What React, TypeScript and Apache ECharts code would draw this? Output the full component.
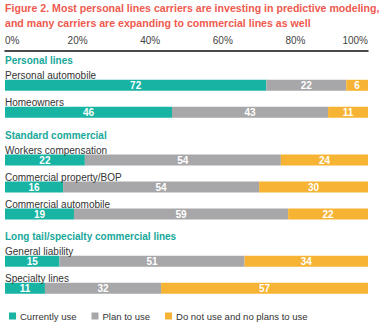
import React, { useEffect, useRef } from "react";
import * as echarts from "echarts";

const TITLE_LINES = [
  "Figure 2. Most personal lines carriers are investing in predictive modeling,",
  "and many carriers are expanding to commercial lines as well",
];
const SERIES_NAMES = ["Currently use", "Plan to use", "Do not use and no plans to use"];
const COLORS = ["#17b3a3", "#a7a7a9", "#f7b334"];
const SECTIONS = ["Personal lines", "Standard commercial", "Long tail/specialty commercial lines"];
const CATEGORIES = [
  ["Personal automobile", "Homeowners"],
  ["Workers compensation", "Commercial property/BOP", "Commercial automobile"],
  ["General liability", "Specialty lines"],
];
const CURRENT = [[72, 46], [22, 16, 19], [15, 11]];
const PLAN = [[22, 43], [54, 54, 59], [51, 32]];
const NOPLAN = [[6, 11], [24, 30, 22], [34, 57]];
const X_TICKS = [0, 20, 40, 60, 80, 100];

const FONT = "'Liberation Sans', Arial, sans-serif";

export default function App() {
  const ref = useRef<HTMLDivElement>(null);
  useEffect(() => {
    if (!ref.current) return;
    const chart = echarts.init(ref.current, null, { renderer: "svg" });
    const rowH = 27;
    const gridTops = [71.8, 146.5, 247.8];
    const left = 5;
    const right = 384 - 368;
    const grids = CATEGORIES.map((cats, i) => ({
      left,
      right,
      top: gridTops[i],
      height: cats.length * rowH,
      containLabel: false,
    }));
    const xAxes = CATEGORIES.map((_, i) => ({
      type: "value",
      gridIndex: i,
      min: 0,
      max: 100,
      interval: 20,
      position: "top",
      offset: i === 0 ? gridTops[0] - 50.5 : 0,
      show: i === 0,
      axisLine: { show: i === 0, lineStyle: { color: "#111", width: 1.5 } },
      axisTick: { show: false },
      splitLine: { show: false },
      axisLabel: {
        show: i === 0,
        formatter: (v: number) => (X_TICKS.includes(v) ? v + "%" : ""),
        color: "#444",
        fontSize: 10,
        fontFamily: FONT,
        margin: 5,
        alignMinLabel: "left",
        alignMaxLabel: "right",
      },
    }));
    const yAxes = CATEGORIES.map((cats, i) => ({
      type: "category",
      gridIndex: i,
      data: cats,
      inverse: true,
      z: 10,
      axisLine: { show: false },
      axisTick: { show: false },
      splitLine: { show: false },
      axisLabel: {
        interval: 0,
        hideOverlap: false,
        inside: true,
        margin: 0,
        align: "left",
        verticalAlign: "middle",
        lineHeight: 20,
        formatter: (v: string) => v + "\n ",
        color: "#333",
        fontSize: 10,
        fontFamily: FONT,
      },
    }));
    const groups = [CURRENT, PLAN, NOPLAN];
    const series: any[] = [];
    CATEGORIES.forEach((_, gi) => {
      groups.forEach((g, si) => {
        series.push({
          type: "bar",
          name: SERIES_NAMES[si],
          xAxisIndex: gi,
          yAxisIndex: gi,
          stack: "s" + gi,
          data: g[gi],
          barWidth: 11,
          itemStyle: { color: COLORS[si] },
          label: {
            show: true,
            position: "inside",
            color: "#fff",
            fontWeight: "bold",
            fontSize: 10,
            fontFamily: FONT,
          },
        });
      });
    });
    const graphic: any[] = [];
    TITLE_LINES.forEach((t, i) => {
      graphic.push({
        type: "text",
        left: 5,
        top: 2 + i * 15,
        style: { text: t, fill: "#ee5a4f", font: `bold 10.6px ${FONT}` },
      });
    });
    SECTIONS.forEach((s, i) => {
      graphic.push({
        type: "text",
        left: 5,
        top: gridTops[i] - 16,
        style: { text: s, fill: "#17a89a", font: `bold 10px ${FONT}` },
      });
    });
    chart.setOption({
      animation: false,
      backgroundColor: "#fff",
      grid: grids,
      xAxis: xAxes,
      yAxis: yAxes,
      series,
      graphic,
      legend: {
        data: SERIES_NAMES,
        left: 4,
        top: 306,
        itemWidth: 7,
        itemHeight: 7,
        itemGap: 15,
        icon: "rect",
        textStyle: { color: "#333", fontSize: 9.5, fontFamily: FONT, padding: [0, 0, 0, -1] },
      },
    });
    return () => chart.dispose();
  }, []);
  return <div ref={ref} style={{ width: 384, height: 334, position: "absolute", left: 0, top: 0 }} />;
}
